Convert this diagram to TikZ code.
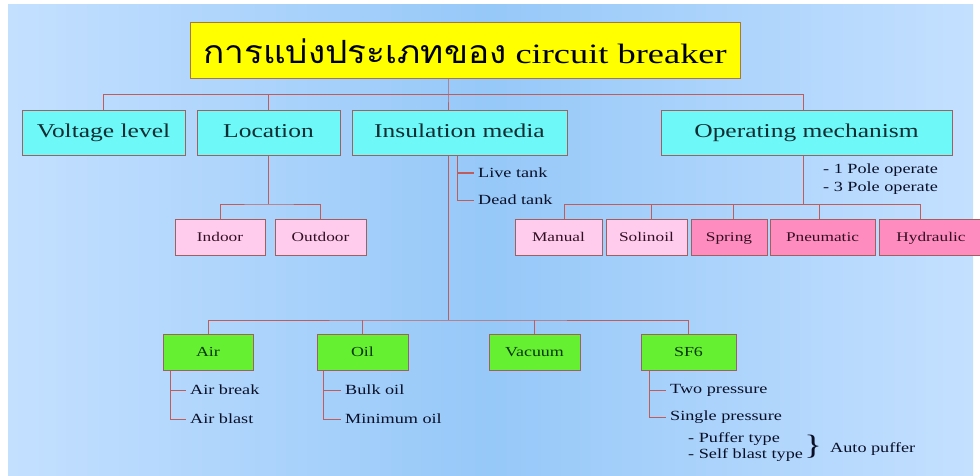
\documentclass[tikz,border=0pt]{standalone}
\usepackage{fontspec}
\setmainfont{Liberation Serif}[FakeStretch=1.3]
\newfontfamily\thaifont[Script=Thai,FakeStretch=1.1]{Loma}
\definecolor{bgl}{RGB}{196,224,255}
\definecolor{bgm}{RGB}{150,200,248}
\definecolor{cyanc}{RGB}{110,248,248}
\definecolor{pinkl}{RGB}{255,204,238}
\definecolor{pinkd}{RGB}{255,140,190}
\definecolor{greenc}{RGB}{102,240,50}
\definecolor{yell}{RGB}{255,255,0}
\definecolor{linec}{RGB}{192,92,92}
\definecolor{bord}{RGB}{160,96,96}
\definecolor{tcyan}{RGB}{15,45,50}
\definecolor{tpink}{RGB}{50,15,35}
\definecolor{tgreen}{RGB}{8,55,8}
\definecolor{tnavy}{RGB}{10,15,40}
\begin{document}
\begin{tikzpicture}[x=1pt,y=-1pt,
  box/.style={draw=bord,line width=1pt,inner sep=0pt,text height=1.0em,text depth=0.14em},
  titlebox/.style={draw={rgb,255:red,170;green,120;blue,60},line width=1pt,inner sep=0pt,fill=yell,text=black,
    minimum width=550pt,minimum height=56pt,font=\fontsize{28}{32}\selectfont},
  l1box/.style={box,fill=cyanc,text=tcyan,minimum height=45pt,font=\fontsize{19.6}{22}\selectfont},
  plbox/.style={box,fill=pinkl,text=tpink,minimum height=36pt,font=\fontsize{13.3}{15}\selectfont},
  pdbox/.style={box,fill=pinkd,text=tpink,minimum height=36pt,font=\fontsize{13.3}{15}\selectfont},
  gbox/.style={box,fill=greenc,text=tgreen,minimum height=36pt,font=\fontsize{13.8}{15}\selectfont},
  conn/.style={draw=linec,line width=1pt},
  stext/.style={inner sep=0pt,anchor=west,text=tnavy,font=\fontsize{14}{16}\selectfont}]
\useasboundingbox (0,0) rectangle (980,476);
\fill[white] (0,0) rectangle (980,476);
\shade[left color=bgl,right color=bgl,middle color=bgm] (8,5) rectangle (973,476);

% title
\node[titlebox] (t) at (465,51) {{\thaifont\fontsize{32}{36}\selectfont การแบ่งประเภทของ} circuit breaker};

% level 1
\node[l1box,minimum width=163pt] (vl) at (103.5,133.5) {Voltage level};
\node[l1box,minimum width=143pt] (loc) at (268.5,133.5) {Location};
\node[l1box,minimum width=215pt] (ins) at (459.5,133.5) {Insulation media};
\node[l1box,minimum width=291pt] (om) at (806.5,133.5) {Operating mechanism};

% pink boxes
\node[plbox,minimum width=90pt] (ind) at (220,237) {Indoor};
\node[plbox,minimum width=91pt] (out) at (320.5,237) {Outdoor};
\node[plbox,minimum width=87pt] (man) at (558.5,237) {Manual};
\node[plbox,minimum width=81pt] (sol) at (646.5,237) {Solinoil};
\node[pdbox,minimum width=76pt] (spr) at (729,237) {Spring};
\node[pdbox,minimum width=105pt] (pne) at (822.5,237) {Pneumatic};
\node[pdbox,minimum width=104pt] (hyd) at (931,237) {Hydraulic};

% green boxes
\node[gbox,minimum width=90pt] (air) at (208,352) {Air};
\node[gbox,minimum width=91pt] (oil) at (362.5,352) {Oil};
\node[gbox,minimum width=91pt] (vac) at (534.5,352) {Vacuum};
\node[gbox,minimum width=95pt] (sf6) at (688.5,352) {SF6};

% top bus
\coordinate (b1) at (448,95);
\coordinate (b1r) at (803,95);
\draw[conn] (t.south -| b1) -- (b1) -- (b1 |- ins.north);
\draw[conn] (vl.north) |- (b1r) -- (b1r |- om.north);
\draw[conn] (loc.north) -- (loc.north |- b1);

% location
\coordinate (b3) at (268,204);
\draw[conn] (loc.south -| b3) -- (b3);
\draw[conn] (ind.north) |- (b3) -| (out.north);

% insulation media
\coordinate (ltx) at (457,173);
\node[stext] (live) at (478,173) {Live tank};
\node[stext] (dead) at (478,200) {Dead tank};
\draw[conn,shorten >=4pt] (ins.south -| ltx) |- (dead.west);
\draw[conn,shorten >=4pt] (ltx) -- (live.west);
\coordinate (b2) at (448,320);
\draw[conn] (ins.south -| b2) -- (b2);
\draw[conn] (air.north) |- (b2) -| (sf6.north);
\draw[conn] (oil.north) -- (oil.north |- b2);
\draw[conn] (vac.north) -- (vac.north |- b2);

% operating mechanism
\coordinate (b4) at (803,204);
\coordinate (d1) at (564,204);
\coordinate (d2) at (651,204);
\coordinate (d3) at (733,204);
\coordinate (d4) at (819,204);
\coordinate (d5) at (920,204);
\draw[conn] (om.south -| b4) -- (b4);
\draw[conn] (d1 |- man.north) -- (d1) -- (d5) -- (d5 |- hyd.north);
\draw[conn] (d2) -- (d2 |- sol.north);
\draw[conn] (d3) -- (d3 |- spr.north);
\draw[conn] (d4) -- (d4 |- pne.north);
\node[stext] (p1) at (823,170) {- 1 Pole operate};
\node[stext] (p3) at (823,188) {- 3 Pole operate};

% air
\coordinate (ax) at (170,390);
\node[stext] (abr) at (190,390) {Air break};
\node[stext] (abl) at (190,419) {Air blast};
\draw[conn,shorten >=4pt] (air.south -| ax) |- (abl.west);
\draw[conn,shorten >=4pt] (ax) -- (abr.west);

% oil
\coordinate (ox) at (323,390);
\node[stext] (bulk) at (345,390) {Bulk oil};
\node[stext] (mino) at (345,419) {Minimum oil};
\draw[conn,shorten >=4pt] (oil.south -| ox) |- (mino.west);
\draw[conn,shorten >=4pt] (ox) -- (bulk.west);

% sf6
\coordinate (sx) at (649,390);
\node[stext] (twop) at (670,390) {Two pressure};
\node[stext] (sing) at (670,417) {Single pressure};
\draw[conn,shorten >=4pt] (sf6.south -| sx) |- (sing.west);
\draw[conn,shorten >=4pt] (sx) -- (twop.west);

\node[stext] (puf) at (688,439) {- Puffer type};
\node[stext] (self) at (688,455) {- Self blast type};
\node[inner sep=0pt,text=tnavy,font=\fontsize{28}{30}\selectfont] (br) at (813,447) {\}};
\node[stext] (auto) at (830,449) {Auto puffer};
\end{tikzpicture}
\end{document}
